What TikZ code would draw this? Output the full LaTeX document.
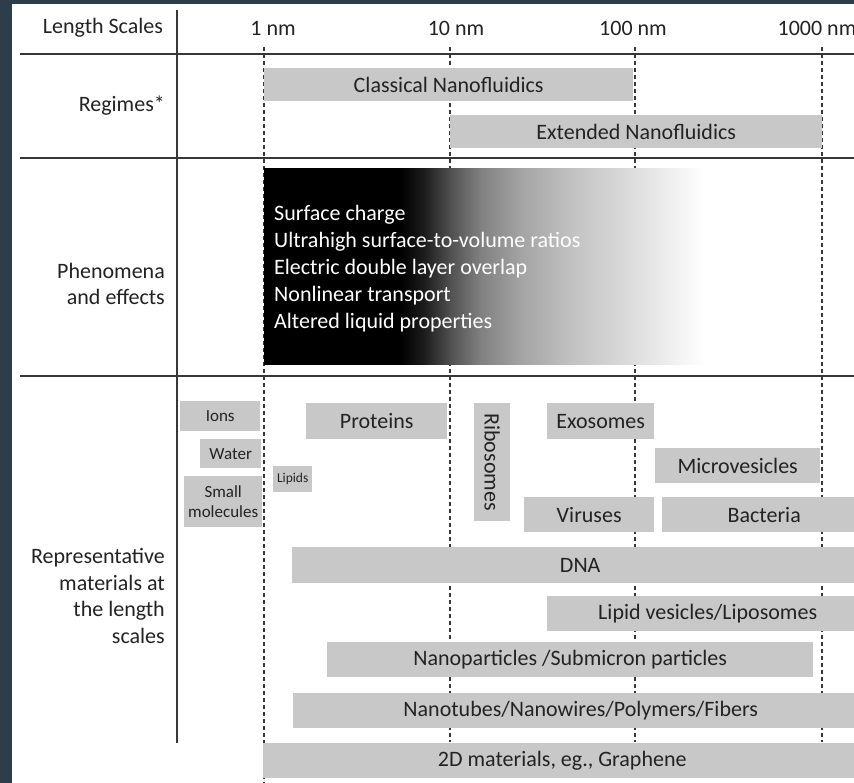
\documentclass[tikz,border=0pt]{standalone}
\usepackage{fontspec}
\setmainfont{Carlito}
\definecolor{bgdark}{RGB}{45,62,74}
\definecolor{boxgray}{RGB}{200,200,200}
\definecolor{txt}{RGB}{35,35,35}
\definecolor{linec}{RGB}{55,55,55}
\definecolor{gA}{RGB}{30,30,30}
\definecolor{gB}{RGB}{80,80,80}
\definecolor{gC}{RGB}{128,128,128}
\definecolor{gD}{RGB}{163,163,163}
\definecolor{gE}{RGB}{193,193,193}
\definecolor{gF}{RGB}{220,220,220}
\newcommand\szA{\fontsize{22}{26.5}\selectfont}
\newcommand\szB{\fontsize{17}{20}\selectfont}
\newcommand\szC{\fontsize{13.5}{15}\selectfont}
\begin{document}
\begin{tikzpicture}[x=1pt,y=-1pt,
  box/.style={fill=boxgray, text=txt, inner sep=0pt, anchor=north west, font=\szA},
  lbl/.style={text=txt, inner sep=0pt, font=\szA},
  gridline/.style={draw=linec, line width=1.6pt},
  scaleline/.style={draw=linec, line width=1.5pt, dash pattern=on 4pt off 3pt}]
\useasboundingbox (0,0) rectangle (854,783);
\clip (0,0) rectangle (854,783);
\fill[bgdark] (0,0) rectangle (854,783);
\fill[white] (12,4) rectangle (860,790);

% length scale coordinates
\coordinate (s1t) at (264,47);   \coordinate (s1b) at (264,783);
\coordinate (s10t) at (450,47);  \coordinate (s10b) at (450,742);
\coordinate (s100t) at (635,47); \coordinate (s100b) at (635,742);
\coordinate (s1000t) at (822,47);\coordinate (s1000b) at (822,742);
\draw[scaleline] (s1t) -- (s1b);
\draw[scaleline] (s10t) -- (s10b);
\draw[scaleline] (s100t) -- (s100b);
\draw[scaleline] (s1000t) -- (s1000b);

% grid
\coordinate (h1l) at (20,54);  \coordinate (h1r) at (860,54);
\coordinate (h2l) at (20,158); \coordinate (h2r) at (860,158);
\coordinate (h3l) at (20,376); \coordinate (h3r) at (860,376);
\coordinate (vt) at (177,10);  \coordinate (vb) at (177,743);
\draw[gridline] (h1l) -- (h1r);
\draw[gridline] (h2l) -- (h2r);
\draw[gridline] (h3l) -- (h3r);
\draw[gridline] (vt) -- (vb);

% header
\node[lbl] (hdr) at (103,28) {Length Scales};
\node[lbl] (n1) at (273,28) {1 nm};
\node[lbl] (n10) at (456,28) {10 nm};
\node[lbl] (n100) at (633,28) {100 nm};
\node[lbl] (n1000) at (817,28) {1000 nm};

% left labels
\node[lbl, anchor=east] (regimes) at (165,106) {Regimes*};
\node[lbl, anchor=east, align=right] (phen) at (165,284) {Phenomena\\and effects};
\node[lbl, anchor=east, align=right] (repr) at (165,596) {Representative\\materials at\\the length\\scales};

% regimes
\node[box, minimum width=369pt, minimum height=33pt] (classical) at (264,68) {Classical Nanofluidics};
\node[box, minimum width=372pt, minimum height=33pt] (extended) at (450,115) {Extended Nanofluidics};

% phenomena gradient
\fill[left color=black, right color=black] (264,169) rectangle (400.5,365);
\fill[left color=black, right color=gA] (400,169) rectangle (425.5,365);
\fill[left color=gA, right color=gB] (425,169) rectangle (450.5,365);
\fill[left color=gB, right color=gC] (450,169) rectangle (480.5,365);
\fill[left color=gC, right color=gD] (480,169) rectangle (520.5,365);
\fill[left color=gD, right color=gE] (520,169) rectangle (570.5,365);
\fill[left color=gE, right color=gF] (570,169) rectangle (630.5,365);
\fill[left color=gF, right color=white] (630,169) rectangle (705,365);
\node[anchor=west, align=left, text=white, inner sep=0pt, font=\fontsize{22}{27}\selectfont] (effects) at (274,268.5)
  {Surface charge\\Ultrahigh surface-to-volume ratios\\Electric double layer overlap\\Nonlinear transport\\Altered liquid properties};

% materials
\node[box, font=\szB, minimum width=80pt, minimum height=30pt] (ions) at (180,401) {Ions};
\node[box, font=\szB, minimum width=61pt, minimum height=29pt] (water) at (200,439) {Water};
\node[box, font=\szB, align=center, minimum width=78pt, minimum height=51pt] (small) at (184,476) {Small\\molecules};
\node[box, font=\szC, minimum width=39pt, minimum height=26pt] (lipids) at (273,466) {Lipids};
\node[box, minimum width=141pt, minimum height=36pt] (proteins) at (306,403) {Proteins};
\node[box, minimum width=36pt, minimum height=118pt] (ribo) at (474,403) {};
\node[lbl, rotate=-90] (ribotext) at (ribo.center) {Ribosomes};
\node[box, minimum width=107pt, minimum height=36pt] (exo) at (547,403) {Exosomes};
\node[box, minimum width=165pt, minimum height=35pt] (micro) at (655,448) {Microvesicles};
\node[box, minimum width=130pt, minimum height=35pt] (virus) at (524,497) {Viruses};
\node[box, minimum width=204pt, minimum height=35pt] (bact) at (662,497) {Bacteria};
\node[box, minimum width=576pt, minimum height=36pt] (dna) at (292,547) {DNA};
\node[box, minimum width=321pt, minimum height=35pt] (lipves) at (547,596) {Lipid vesicles/Liposomes};
\node[box, minimum width=486pt, minimum height=35pt] (nanop) at (327,642) {Nanoparticles /Submicron particles};
\node[box, minimum width=575pt, minimum height=35pt] (nanot) at (293,693) {Nanotubes/Nanowires/Polymers/Fibers};
\node[box, minimum width=598pt, minimum height=35pt] (twod) at (263,743) {2D materials, eg., Graphene};
\end{tikzpicture}
\end{document}
